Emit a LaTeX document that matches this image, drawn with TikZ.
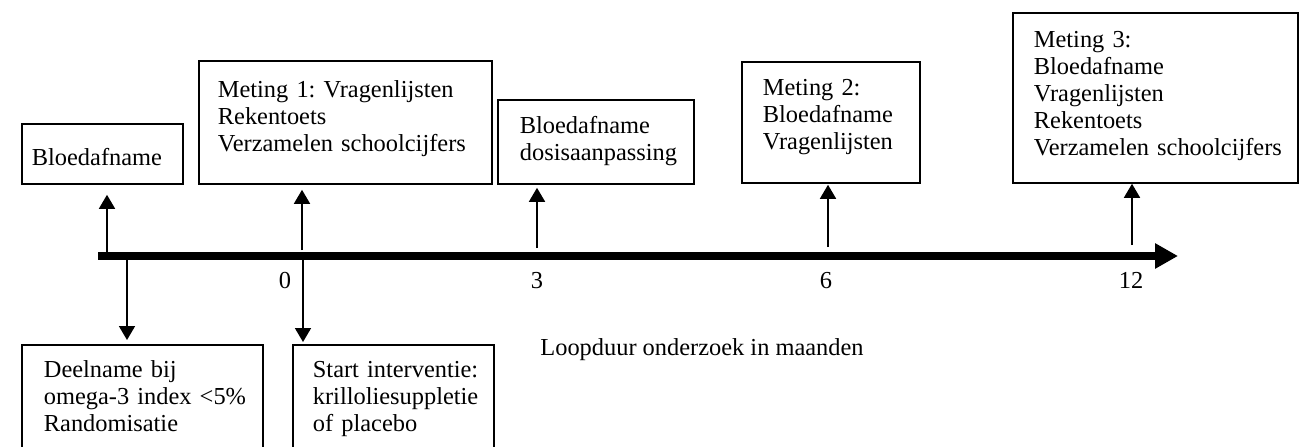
\documentclass[tikz,border=0pt]{standalone}
\usepackage{fontspec}
\setmainfont{Liberation Serif}
\usetikzlibrary{arrows.meta}
\frenchspacing
\newcommand{\lpad}[1]{\leftskip=#1\relax}
\begin{document}
\begin{tikzpicture}[x=0.5pt,y=-0.5pt,
  txt/.style={font=\fontsize{12.2pt}{13.5pt}\selectfont\frenchspacing},
  bx/.style={txt, draw, line width=0.9pt, anchor=north west, inner xsep=0pt, inner ysep=0pt, align=left},
  conn/.style={line width=0.85pt, -{Triangle[length=7pt,width=8pt]}},
  axisline/.style={line width=4pt, -{Triangle[length=11.5pt,width=12pt]}},
  lbl/.style={txt, anchor=base, inner sep=0pt}]
\useasboundingbox (0,0) rectangle (1300,446);
\clip (0,0) rectangle (1300,446);
% boxes
\node[bx, text width=80.5pt, text height=21pt, text depth=9pt] (A) at (21,123) {\lpad{5pt}Bloedafname\par};
\node[bx, text width=146.5pt, text height=18.5pt, text depth=43pt] (B) at (198,60) {\lpad{9.5pt}Meting 1: Vragenlijsten\\Rekentoets\\Verzamelen schoolcijfers\par};
\node[bx, text width=98pt, text height=17pt, text depth=25pt] (C) at (497,99) {\lpad{11pt}Bloedafname\\dosisaanpassing\par};
\node[bx, text width=89pt, text height=17pt, text depth=43.5pt] (D) at (741,61) {\lpad{10.5pt}Meting 2:\\Bloedafname\\Vragenlijsten\par};
\node[bx, text width=142.5pt, text height=17.5pt, text depth=67.5pt] (E) at (1012,12) {\lpad{10.5pt}Meting 3:\\Bloedafname\\Vragenlijsten\\Rekentoets\\Verzamelen schoolcijfers\par};
\node[bx, text width=120.5pt, text height=16.5pt, text depth=46.5pt] (F) at (21,344) {\lpad{11pt}Deelname bij\\omega-3 index <5\%\\Randomisatie\par};
\node[bx, text width=100.5pt, text height=16.5pt, text depth=46.5pt] (G) at (292,344) {\lpad{10pt}Start interventie:\\krilloliesuppletie\\of placebo\par};
% time axis
\coordinate (L) at (98,256);
\coordinate (R) at (1178,256);
\draw[axisline] (L) -- (R);
% connectors
\coordinate (a1) at (107,254);
\coordinate (a2) at (127,258);
\coordinate (a3) at (302,250);
\coordinate (a4) at (303,256);
\coordinate (a5) at (537,248);
\coordinate (a6) at (828,247);
\coordinate (a7) at (1132,245);
\draw[conn, shorten >=5pt] (a1) -- (a1 |- A.south);
\draw[conn, shorten >=2pt] (a2) -- (a2 |- F.north);
\draw[conn, shorten >=2.5pt] (a3) -- (a3 |- B.south);
\draw[conn, shorten >=1pt] (a4) -- (a4 |- G.north);
\draw[conn, shorten >=1.5pt] (a5) -- (a5 |- C.south);
\draw[conn, shorten >=0.5pt] (a6) -- (a6 |- D.south);
\draw[conn] (a7) -- (a7 |- E.south);
% labels
\node[lbl] (t0) at (285,288) {0};
\node[lbl] (t3) at (537,288) {3};
\node[lbl] (t6) at (826,288) {6};
\node[lbl] (t12) at (1131,288) {12};
\node[txt, anchor=base west, inner sep=0pt] (dur) at (540,355) {Loopduur onderzoek in maanden};
\end{tikzpicture}
\end{document}
